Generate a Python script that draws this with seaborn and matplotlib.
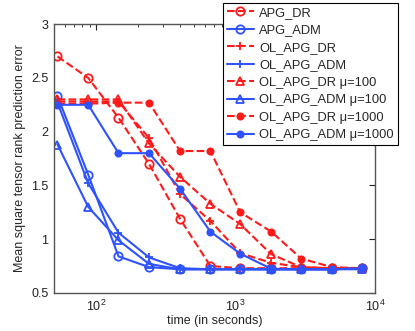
import numpy as np
import matplotlib
matplotlib.use('Agg')
import matplotlib.pyplot as plt
from matplotlib.ticker import FormatStrFormatter, LogLocator
import seaborn as sns

# time axis (seconds) shared by every method
t = [53, 88, 145, 240, 400, 660, 1080, 1800, 2950, 4900, 8100]

apg_dr = [2.70, 2.50, 2.13, 1.70, 1.19, 0.75, 0.73, 0.73, 0.73, 0.73, 0.73]
apg_adm = [2.33, 1.60, 0.84, 0.74, 0.72, 0.72, 0.72, 0.72, 0.72, 0.72, 0.73]
ol_apg_dr = [2.28, 2.28, 2.28, 1.94, 1.42, 1.17, 0.87, 0.78, 0.74, 0.73, 0.73]
ol_apg_adm = [2.27, 1.52, 1.06, 0.83, 0.73, 0.72, 0.72, 0.72, 0.72, 0.72, 0.73]
ol_apg_dr_100 = [2.30, 2.30, 2.30, 1.89, 1.58, 1.33, 1.14, 0.86, 0.74, 0.73, 0.73]
ol_apg_adm_100 = [1.88, 1.30, 0.99, 0.77, 0.72, 0.72, 0.72, 0.72, 0.72, 0.72, 0.72]
ol_apg_dr_1000 = [2.26, 2.26, 2.27, 2.27, 1.82, 1.82, 1.25, 1.07, 0.82, 0.74, 0.73]
ol_apg_adm_1000 = [2.25, 2.25, 1.80, 1.80, 1.47, 1.07, 0.865, 0.725, 0.72, 0.72, 0.73]

RED = '#ff1a1a'
BLUE = '#2f52ff'

series = [
    ('APG_DR', apg_dr, RED, '--', 'o', 'none'),
    ('APG_ADM', apg_adm, BLUE, '-', 'o', 'none'),
    ('OL_APG_DR', ol_apg_dr, RED, '--', '+', RED),
    ('OL_APG_ADM', ol_apg_adm, BLUE, '-', '+', BLUE),
    ('OL_APG_DR \u03bc=100', ol_apg_dr_100, RED, '--', '^', 'none'),
    ('OL_APG_ADM \u03bc=100', ol_apg_adm_100, BLUE, '-', '^', 'none'),
    ('OL_APG_DR \u03bc=1000', ol_apg_dr_1000, RED, '--', '.', RED),
    ('OL_APG_ADM \u03bc=1000', ol_apg_adm_1000, BLUE, '-', '.', BLUE),
]

sns.set_theme(style='white')
plt.rcParams['font.family'] = ['Liberation Sans', 'DejaVu Sans']
plt.rcParams['mathtext.fontset'] = 'custom'
plt.rcParams['mathtext.rm'] = 'Liberation Sans'
plt.rcParams['font.size'] = 9

fig = plt.figure(figsize=(4.15, 3.31), dpi=100)
ax = fig.add_axes([0.130, 0.115, 0.774, 0.812])

for name, vals, col, ls, mk, mfc in series:
    ms = 9 if mk == '.' else 6
    sns.lineplot(x=t, y=vals, ax=ax, color=col, linestyle=ls, linewidth=1.5,
                 marker=mk, markersize=ms, markerfacecolor=mfc,
                 markeredgecolor=col, markeredgewidth=1.3, label=name)

ax.set_xscale('log')
ax.set_xlim(50, 1e4)
ax.set_ylim(0.5, 3)
ax.set_yticks([0.5, 1, 1.5, 2, 2.5, 3])
ax.yaxis.set_major_formatter(FormatStrFormatter('%g'))
ax.xaxis.set_minor_locator(LogLocator(base=10, subs=np.arange(2, 10)))
ax.tick_params(which='both', direction='in', top=True, right=True,
               colors='#222222', labelsize=9, pad=4)
ax.tick_params(which='major', length=4, width=0.8)
ax.tick_params(which='minor', length=2, width=0.6)
ax.tick_params(axis='y', which='minor', left=False, right=False)
for s in ax.spines.values():
    s.set_color('#555555')
    s.set_linewidth(1.0)

ax.set_xlabel('time (in seconds)', fontsize=9, labelpad=1)
ax.set_ylabel('Mean square tensor rank prediction error', fontsize=9, labelpad=4)

leg = ax.legend(loc='upper left', bbox_to_anchor=(0.537, 0.991),
                bbox_transform=fig.transFigure, borderaxespad=0,
                frameon=True, fancybox=False, framealpha=1, edgecolor='black',
                fontsize=9.3, handlelength=2.1, handletextpad=0.4,
                labelspacing=0.42, borderpad=0.3)
leg.get_frame().set_linewidth(0.8)

fig.savefig('out.png', dpi=100)
